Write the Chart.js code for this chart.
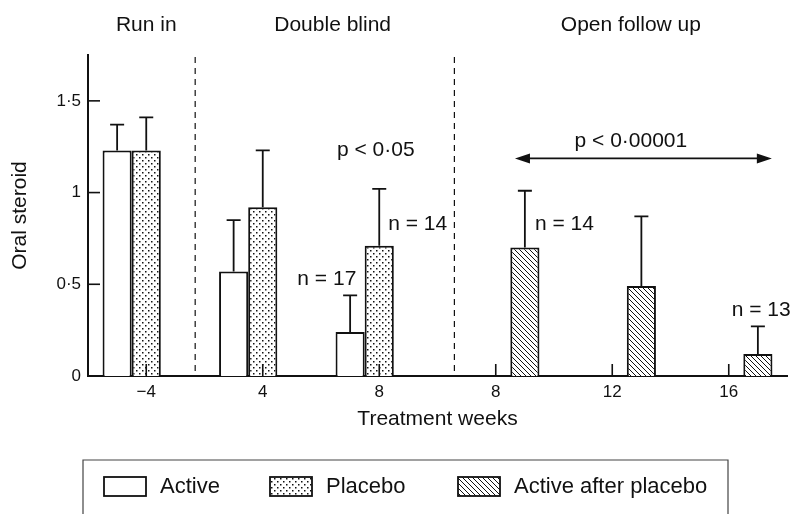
<!DOCTYPE html>
<html>
<head>
<meta charset="utf-8">
<script src="https://cdn.jsdelivr.net/npm/chart.js@4.4.1/dist/chart.umd.min.js"></script>
<style>
    body { margin: 0; background: #fff; }
    #wrap { width: 793px; height: 514px; }
</style>
</head>
<body>
<div id="wrap"><canvas id="steroidChart" width="793" height="514"></canvas></div>
<script>
// data
const weekLabels = ['\u22124', '4', '8', '8', '12', '16'];
const seriesNames = ['Active', 'Placebo', 'Active after placebo'];
const activeMeans = [1.23, 0.57, 0.24, null, null, null];
const activeUpper = [1.37, 0.85, 0.44, null, null, null];
const placeboMeans = [1.23, 0.92, 0.71, null, null, null];
const placeboUpper = [1.41, 1.23, 1.02, null, null, null];
const afterMeans = [null, null, null, 0.70, 0.49, 0.12];
const afterUpper = [null, null, null, 1.01, 0.87, 0.27];
const yTickValues = [0, 0.5, 1, 1.5];
const yTickLabels = ['0', '0\u00B75', '1', '1\u00B75'];
const phaseNames = ['Run in', 'Double blind', 'Open follow up'];
const nLabels = ['n = 17', 'n = 14', 'n = 14', 'n = 13'];
const pLabels = ['p < 0\u00B705', 'p < 0\u00B700001'];

const INK = '#111';
const FONT = '"Liberation Sans", Arial, sans-serif';

// fill patterns
function dotPattern() {
    const c = document.createElement('canvas');
    c.width = 6; c.height = 6;
    const g = c.getContext('2d');
    g.fillStyle = '#fff';
    g.fillRect(0, 0, 6, 6);
    g.fillStyle = '#111';
    g.fillRect(1, 1, 1.5, 1.5);
    g.fillRect(4, 4, 1.5, 1.5);
    return g.createPattern(c, 'repeat');
}
function hatchPattern() {
    const c = document.createElement('canvas');
    c.width = 5; c.height = 5;
    const g = c.getContext('2d');
    g.fillStyle = '#fff';
    g.fillRect(0, 0, 5, 5);
    g.strokeStyle = '#111';
    g.lineWidth = 1;
    g.beginPath();
    g.moveTo(-1, -1); g.lineTo(6, 6);
    g.moveTo(-1, 4); g.lineTo(1, 6);
    g.moveTo(4, -1); g.lineTo(6, 1);
    g.stroke();
    return g.createPattern(c, 'repeat');
}

const fills = ['#fff', dotPattern(), hatchPattern()];
const uppers = [activeUpper, placeboUpper, afterUpper];

const extras = {
    id: 'extras',
    afterDatasetsDraw(chart) {
        const ctx = chart.ctx;
        const x = chart.scales.x, y = chart.scales.y;
        const area = chart.chartArea;
        ctx.save();
        ctx.strokeStyle = INK;
        ctx.lineWidth = 1.8;
        // upper error whiskers
        chart.data.datasets.forEach(function(ds, di) {
            const meta = chart.getDatasetMeta(di);
            uppers[di].forEach(function(u, i) {
                if (u === null) return;
                const bar = meta.data[i];
                const top = y.getPixelForValue(u);
                ctx.beginPath();
                ctx.moveTo(bar.x, bar.y);
                ctx.lineTo(bar.x, top);
                ctx.moveTo(bar.x - 7, top);
                ctx.lineTo(bar.x + 7, top);
                ctx.stroke();
            });
        });
        // inward tick marks
        ctx.lineWidth = 1.6;
        yTickValues.forEach(function(v) {
            if (v === 0) return;
            const py = y.getPixelForValue(v);
            ctx.beginPath();
            ctx.moveTo(area.left, py);
            ctx.lineTo(area.left + 12, py);
            ctx.stroke();
        });
        weekLabels.forEach(function(l, i) {
            const px = x.getPixelForValue(i);
            ctx.beginPath();
            ctx.moveTo(px, area.bottom);
            ctx.lineTo(px, area.bottom - 12);
            ctx.stroke();
        });
        ctx.restore();
    },
    afterDraw(chart) {
        const ctx = chart.ctx;
        const x = chart.scales.x, y = chart.scales.y;
        const area = chart.chartArea;
        ctx.save();
        ctx.fillStyle = INK;
        ctx.strokeStyle = INK;

        // phase separators
        ctx.setLineDash([6, 5]);
        ctx.lineWidth = 1.2;
        [0.42, 2.645].forEach(function(pos) {
            const px = x.getPixelForValue(pos);
            ctx.beginPath();
            ctx.moveTo(px, area.top + 2);
            ctx.lineTo(px, area.bottom);
            ctx.stroke();
        });
        ctx.setLineDash([]);

        // phase headings
        ctx.font = '21px ' + FONT;
        ctx.textAlign = 'center';
        ctx.textBaseline = 'middle';
        [0, 1.6, 4.16].forEach(function(pos, i) {
            ctx.fillText(phaseNames[i], x.getPixelForValue(pos), 25);
        });

        // p values and n counts
        ctx.fillText(pLabels[0], x.getPixelForValue(1.97), y.getPixelForValue(1.23));
        ctx.fillText(pLabels[1], x.getPixelForValue(4.16), y.getPixelForValue(1.28));
        ctx.fillText(nLabels[0], x.getPixelForValue(1.55), y.getPixelForValue(0.53));
        ctx.fillText(nLabels[1], x.getPixelForValue(2.33), y.getPixelForValue(0.83));
        ctx.fillText(nLabels[2], x.getPixelForValue(3.59), y.getPixelForValue(0.83));
        ctx.textAlign = 'left';
        ctx.fillText(nLabels[3], x.getPixelForValue(5.025), y.getPixelForValue(0.36));

        // double headed arrow
        const ay = y.getPixelForValue(1.186);
        const ax1 = x.getPixelForValue(3.165), ax2 = x.getPixelForValue(5.37);
        ctx.lineWidth = 1.8;
        ctx.beginPath();
        ctx.moveTo(ax1 + 8, ay);
        ctx.lineTo(ax2 - 8, ay);
        ctx.stroke();
        ctx.beginPath();
        ctx.moveTo(ax1, ay); ctx.lineTo(ax1 + 15, ay - 5); ctx.lineTo(ax1 + 15, ay + 5); ctx.closePath();
        ctx.moveTo(ax2, ay); ctx.lineTo(ax2 - 15, ay - 5); ctx.lineTo(ax2 - 15, ay + 5); ctx.closePath();
        ctx.fill();

        // legend box
        ctx.strokeStyle = '#444';
        ctx.lineWidth = 1.2;
        ctx.beginPath();
        ctx.moveTo(83, 520); ctx.lineTo(83, 460); ctx.lineTo(728, 460); ctx.lineTo(728, 520);
        ctx.stroke();
        const boxX = [104, 270, 458];
        ctx.font = '22px ' + FONT;
        ctx.textBaseline = 'middle';
        seriesNames.forEach(function(name, i) {
            ctx.fillStyle = fills[i];
            ctx.fillRect(boxX[i], 477, 42, 19);
            ctx.strokeStyle = INK;
            ctx.lineWidth = 1.8;
            ctx.strokeRect(boxX[i], 477, 42, 19);
            ctx.fillStyle = INK;
            ctx.fillText(name, boxX[i] + 56, 487);
        });
        ctx.restore();
    }
};

new Chart(document.getElementById('steroidChart'), {
    type: 'bar',
    data: {
        labels: weekLabels,
        datasets: [
            { label: seriesNames[0], data: activeMeans, backgroundColor: fills[0] },
            { label: seriesNames[1], data: placeboMeans, backgroundColor: fills[1] },
            { label: seriesNames[2], data: afterMeans, backgroundColor: fills[2] }
        ]
    },
    options: {
        responsive: false,
        animation: false,
        layout: { padding: { top: 55, left: 0, right: 6, bottom: 82 } },
        datasets: {
            bar: {
                borderColor: INK,
                borderWidth: 2,
                categoryPercentage: 0.75,
                barPercentage: 1
            }
        },
        plugins: {
            legend: { display: false },
            tooltip: { enabled: false }
        },
        scales: {
            x: {
                grid: { display: false, drawTicks: false },
                border: { color: INK, width: 2 },
                ticks: { color: INK, font: { family: FONT, size: 17 }, padding: 6 },
                title: {
                    display: true,
                    text: 'Treatment weeks',
                    color: INK,
                    font: { family: FONT, size: 21 },
                    padding: { top: 0, bottom: 0 }
                },
                afterFit: function(scale) { scale.height = 56; }
            },
            y: {
                min: 0,
                max: 1.75,
                grid: { display: false, drawTicks: false },
                border: { color: INK, width: 2 },
                afterBuildTicks: function(scale) {
                    scale.ticks = yTickValues.map(function(v) { return { value: v }; });
                },
                ticks: {
                    color: INK,
                    font: { family: FONT, size: 17 },
                    padding: 7,
                    callback: function(value) {
                        return yTickLabels[yTickValues.indexOf(value)];
                    }
                },
                title: {
                    display: true,
                    text: 'Oral steroid',
                    color: INK,
                    font: { family: FONT, size: 21 },
                    padding: { top: 8, bottom: 0 }
                },
                afterFit: function(scale) { scale.width = 88; }
            }
        }
    },
    plugins: [extras]
});
</script>
</body>
</html>
